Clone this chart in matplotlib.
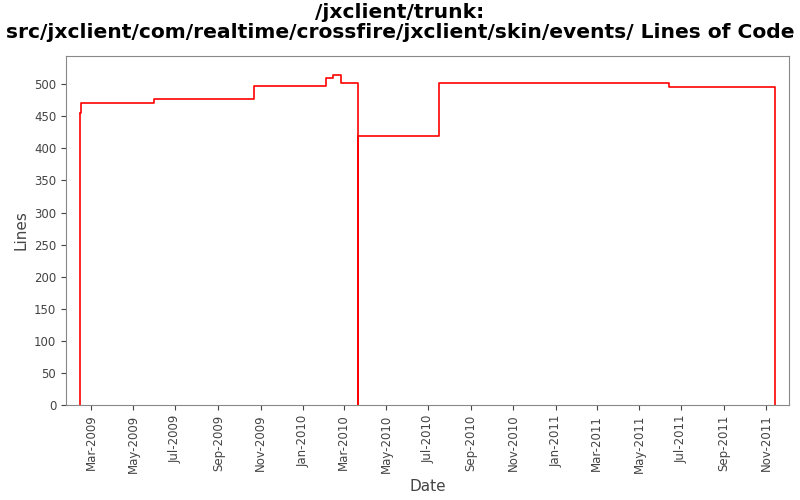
import numpy as np
import pandas as pd
import matplotlib
matplotlib.use('Agg')
import matplotlib.pyplot as plt
import matplotlib.dates as mdates

# step changes in line count
dates = ['2009-02-13', '2009-02-15', '2009-05-31', '2009-10-23', '2010-02-04',
         '2010-02-13', '2010-02-25', '2010-03-22', '2010-03-22', '2010-07-17',
         '2011-06-14', '2011-11-13', '2011-11-13']
lines = [455, 470, 477, 497, 510, 515, 502, 0, 420, 502, 495, 495, 0]

d = pd.to_datetime(dates)

fig = plt.figure(figsize=(8, 5), dpi=100)
ax = fig.add_axes([0.0825, 0.19, 0.904, 0.698])
ax.step(d, lines, where='post', color='red', lw=1.2)
ax.vlines(d[0], 0, lines[0], color='red', lw=1.2)

ax.set_xlim(pd.Timestamp('2009-01-24'), pd.Timestamp('2011-12-04'))
ax.set_ylim(0, 544)
ax.set_yticks(range(0, 501, 50))
ax.xaxis.set_major_locator(mdates.MonthLocator(bymonth=[1, 3, 5, 7, 9, 11]))
ax.xaxis.set_major_formatter(mdates.DateFormatter('%b-%Y'))
plt.setp(ax.get_xticklabels(), rotation=90)
ax.tick_params(labelsize=8.5, colors='#444444')
for s in ax.spines.values():
    s.set_color('#888888')

ax.set_xlabel('Date', fontsize=11, color='#444444')
ax.set_ylabel('Lines', fontsize=11, color='#444444')
fig.suptitle('/jxclient/trunk:\nsrc/jxclient/com/realtime/crossfire/jxclient/skin/events/ Lines of Code',
             fontsize=14.6, fontweight='bold', y=0.995, linespacing=1.1)
fig.savefig('out.png')
